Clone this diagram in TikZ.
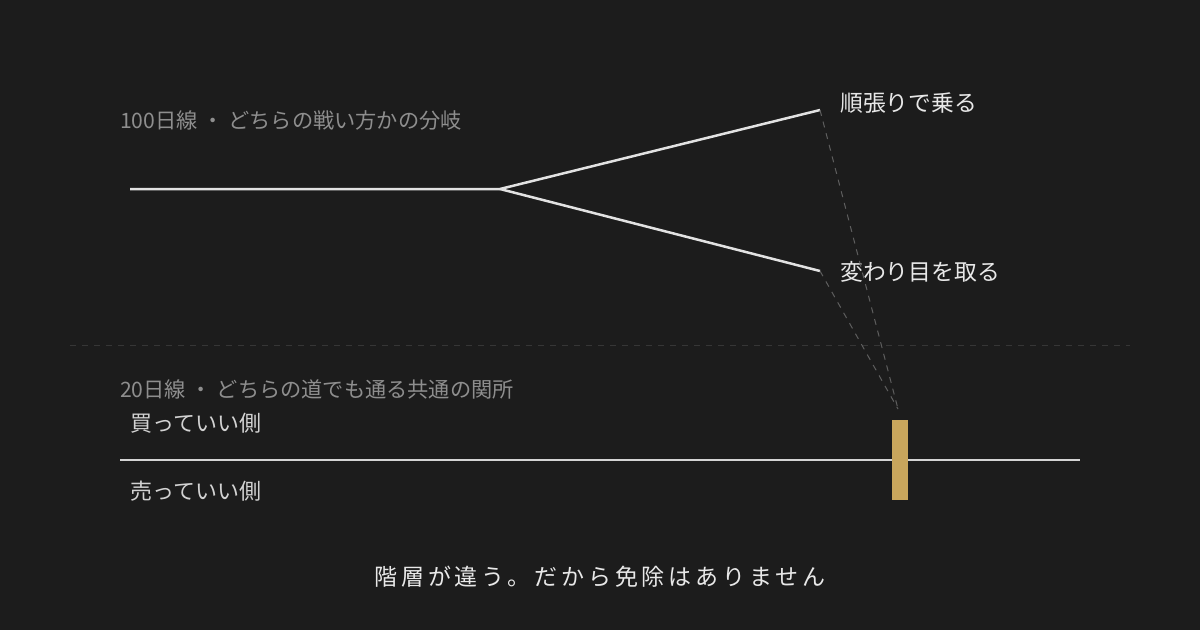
\documentclass[tikz,border=0pt]{standalone}
\usepackage{fontspec}
\newfontfamily\jp{Noto Sans CJK JP}
\newfontfamily\jpsp[LetterSpace=17]{Noto Sans CJK JP}
\definecolor{bg}{HTML}{1C1C1C}
\definecolor{linec}{HTML}{E2E2E2}
\definecolor{lowline}{HTML}{D4D4D4}
\definecolor{dashc}{HTML}{5E5E5E}
\definecolor{sepc}{HTML}{363636}
\definecolor{gold}{HTML}{C9A65C}
\definecolor{mutedtxt}{HTML}{8E8E8E}
\definecolor{brighttxt}{HTML}{E8E8E8}
\definecolor{sidetxt}{HTML}{D2D2D2}
\tikzset{
  mainline/.style={draw=linec, line width=2.5pt, line join=miter},
  lowmain/.style={draw=lowline, line width=2.8pt},
  guide/.style={draw=dashc, line width=1pt, dash pattern=on 6pt off 6pt},
  sepline/.style={draw=sepc, line width=1pt, dash pattern=on 6pt off 6pt},
  heading/.style={anchor=west, inner sep=0pt, text=mutedtxt, font=\jp\fontsize{21.2}{21}\selectfont},
  branchlbl/.style={anchor=west, inner sep=0pt, text=brighttxt, font=\jp\fontsize{22.8}{23}\selectfont},
  sidelbl/.style={anchor=west, inner sep=0pt, text=sidetxt, font=\jp\fontsize{22}{22}\selectfont},
  footer/.style={anchor=center, inner sep=0pt, text=brighttxt, font=\jpsp\fontsize{23}{23}\selectfont},
}
\begin{document}
\begin{tikzpicture}[x=1pt,y=-1pt]
\fill[bg] (0,0) rectangle (1200,630);
\useasboundingbox (0,0) rectangle (1200,630);

% top section
\node[heading] (h1) at (120,120) {100日線 ・ どちらの戦い方かの分岐};
\coordinate (start) at (130,189);
\coordinate (fork) at (500,189);
\coordinate (upend) at (820,110);
\coordinate (downend) at (820,271);
\draw[mainline] (start) -- (fork) -- (upend);
\draw[mainline] (fork) -- (downend);
\node[branchlbl] (lup) at (840,103) {順張りで乗る};
\node[branchlbl] (ldown) at (840,272) {変わり目を取る};

% separator
\coordinate (sepL) at (70,345);
\coordinate (sepR) at (1130,345);
\draw[sepline] (sepL) -- (sepR);

% bottom section
\node[heading] (h2) at (120,389) {20日線 ・ どちらの道でも通る共通の関所};
\node[sidelbl] (buy) at (130,423) {買っていい側};
\node[sidelbl] (sell) at (130,491) {売っていい側};
\coordinate (lowL) at (120,460);
\coordinate (lowR) at (1080,460);
\draw[lowmain] (lowL) -- (lowR);
\node[fill=gold, minimum width=16pt, minimum height=80pt, inner sep=0pt] (gate) at (900,460) {};
\coordinate (meet) at (898,409);
\draw[guide] (upend) -- (meet);
\draw[guide] (downend) -- (meet);

% footer
\node[footer] (foot) at (600,577) {階層が違う。だから免除はありません};
\end{tikzpicture}
\end{document}
